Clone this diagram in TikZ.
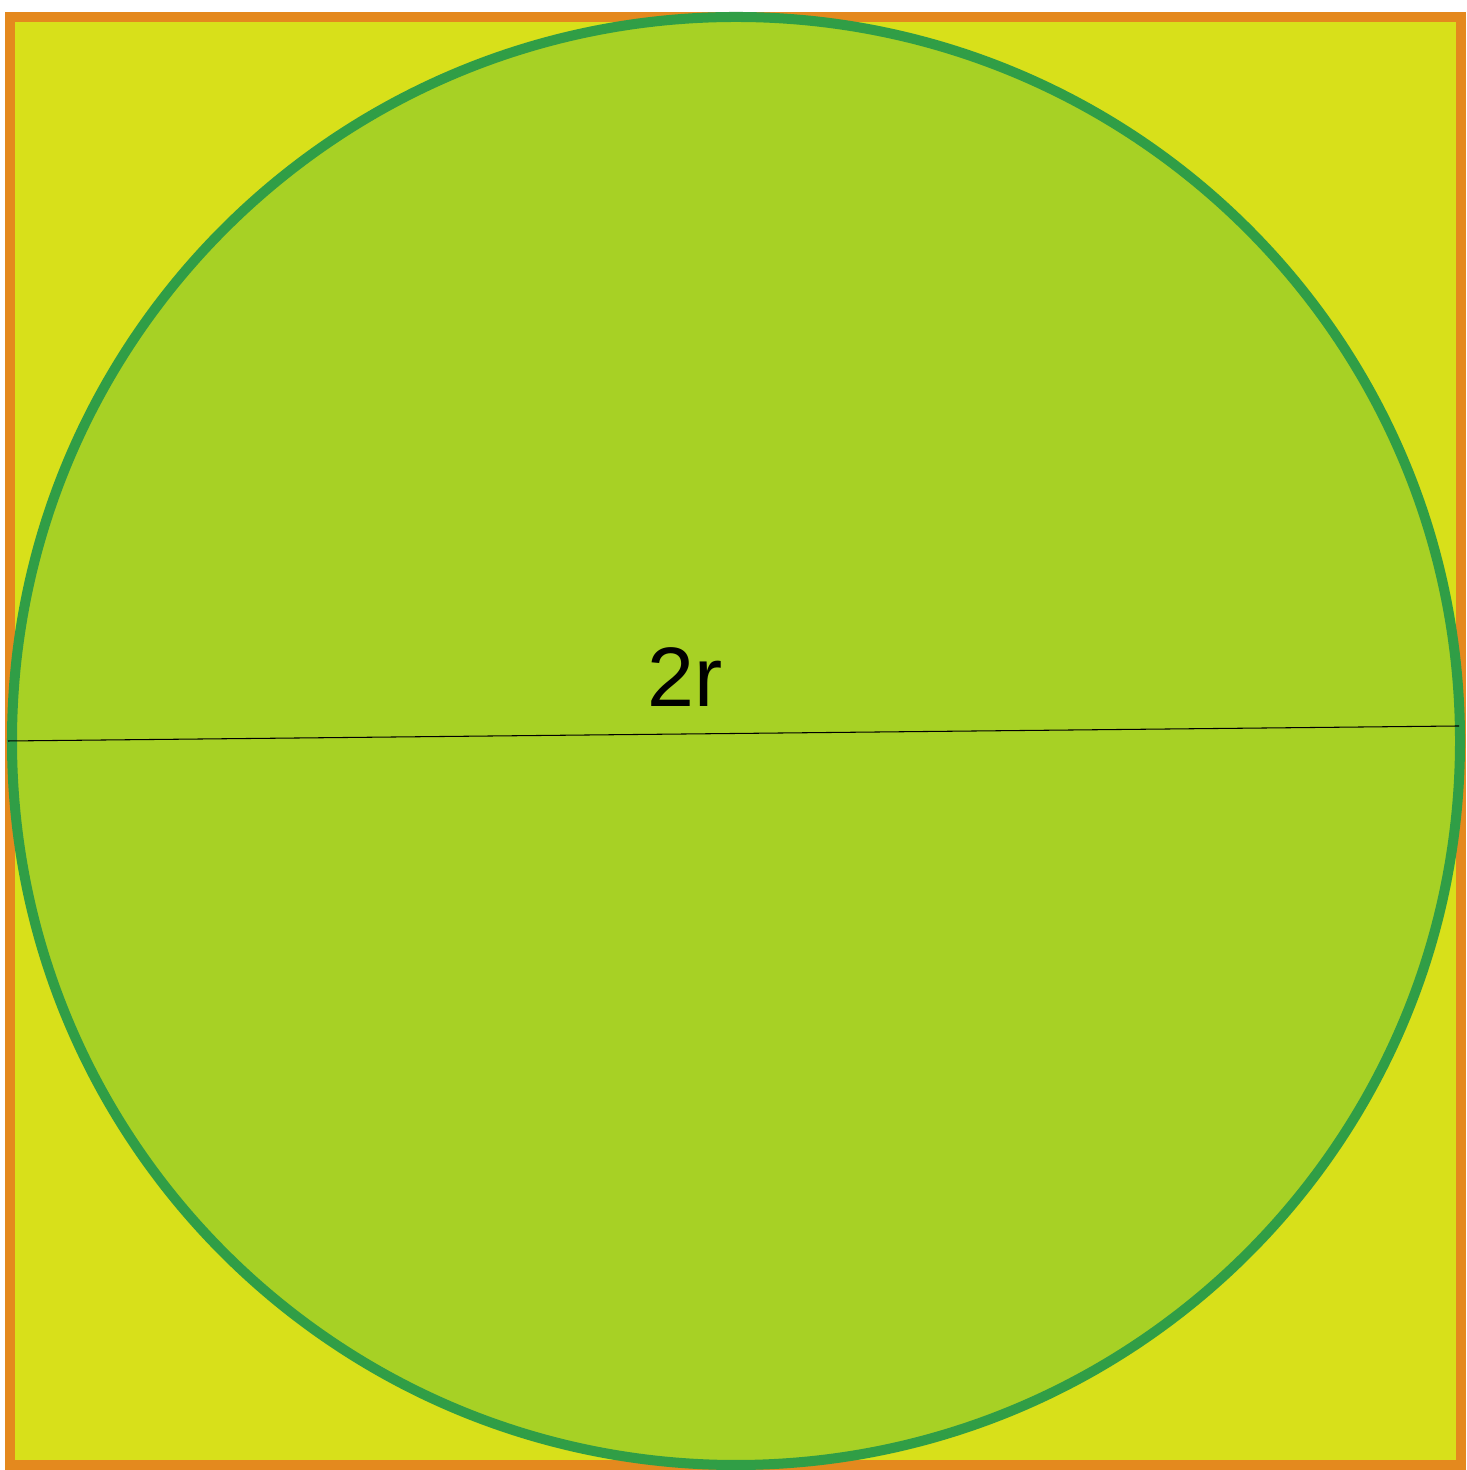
\documentclass[tikz,border=0pt]{standalone}
\usepackage{fontspec}
\setmainfont{Liberation Sans}
\usepackage{xcolor}
\usepackage{tikz}
\usetikzlibrary{positioning}
\definecolor{BoxOrange}{RGB}{228,137,30}
\definecolor{BoxYellow}{RGB}{216,224,26}
\definecolor{DiscGreen}{RGB}{167,209,37}
\definecolor{RimGreen}{RGB}{48,158,70}

\begin{document}
\begin{tikzpicture}
      \tikzset{sq/.style={draw=BoxOrange, fill=BoxYellow, line width=2.85pt, minimum width=14.51cm, minimum height=14.48cm, inner sep=0pt, outer sep=0pt},
        disc/.style={circle, draw=RimGreen, fill=DiscGreen, line width=2.85pt, minimum size=14.48cm, inner sep=0pt, outer sep=0pt}}
      \useasboundingbox (0,0) rectangle (14.66,14.70);
      \node[sq] (square) at (7.355,7.29) {};
      \node[disc] (disc) at (7.36,7.29) {};
      \coordinate (dl) at (0.08,7.29);
      \coordinate (dr) at (14.59,7.44);
      \draw[line width=0.3pt] (dl) -- (dr);
      \node[font=\fontsize{24}{28}\selectfont] (lbl) at (6.85,7.93) {2r};
    \end{tikzpicture}
\end{document}
